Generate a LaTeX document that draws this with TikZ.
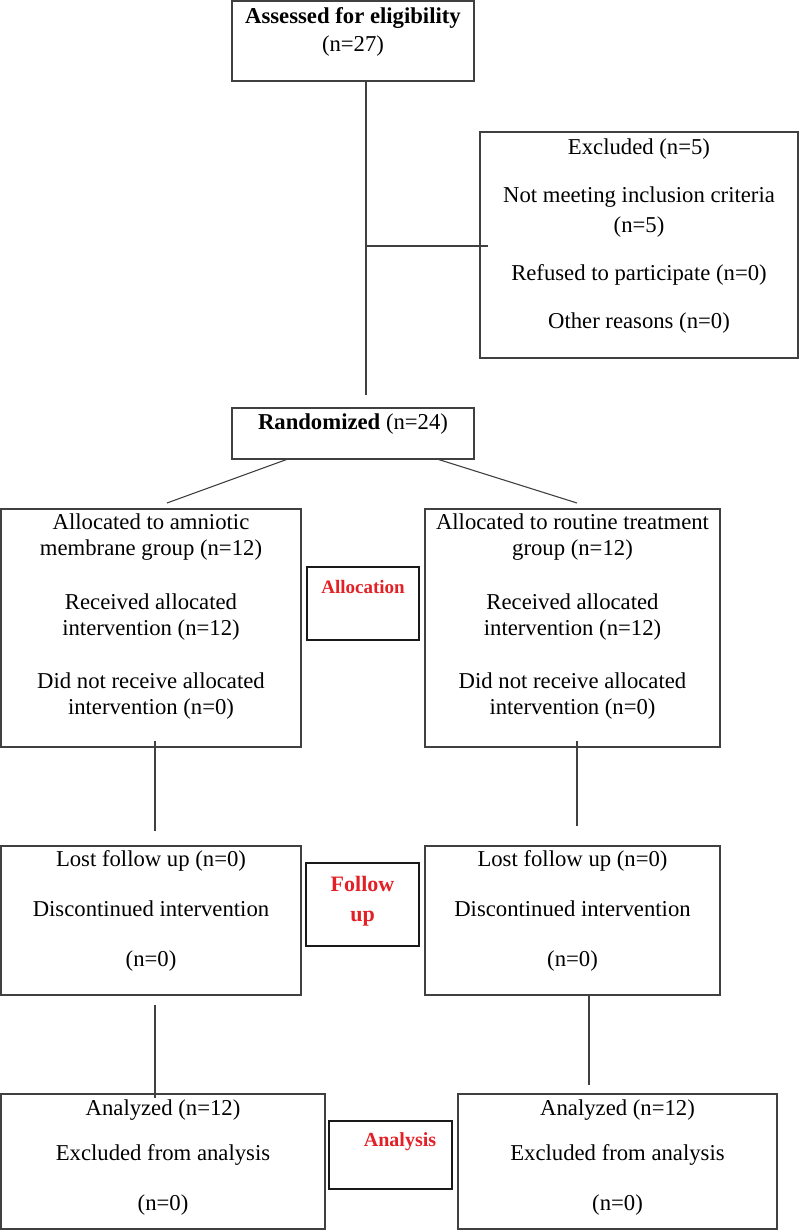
\documentclass[tikz,border=0pt]{standalone}
\usepackage{fontspec}
\setmainfont{Liberation Serif}
\definecolor{labred}{RGB}{226,32,38}
\tikzset{
	box/.style={draw=black!75, line width=1.1pt, inner sep=0pt, outer sep=0pt},
	labbox/.style={draw=black!90, line width=1.5pt, inner sep=0pt, outer sep=0pt},
	txt/.style={align=center, inner sep=0pt, font=\fontsize{22.7}{26}\selectfont},
	labtxt/.style={align=center, inner sep=0pt, text=labred, font=\fontsize{19}{30}\selectfont\bfseries},
	link/.style={draw=black!75, line width=1.1pt}
}
\begin{document}
\begin{tikzpicture}[x=1pt,y=-1pt]
	\useasboundingbox (0,0) rectangle (799,1230);
	% boxes
	\node[box, minimum width=242, minimum height=80] (assess) at (353,41) {};
	\node[box, minimum width=318, minimum height=226] (excl) at (639,245) {};
	\node[box, minimum width=242, minimum height=51] (rand) at (353,433.5) {};
	\node[box, minimum width=300, minimum height=238] (allocL) at (151,628) {};
	\node[box, minimum width=295, minimum height=238] (allocR) at (572.5,628) {};
	\node[box, minimum width=300, minimum height=149] (followL) at (151,920.5) {};
	\node[box, minimum width=295, minimum height=149] (followR) at (572.5,920.5) {};
	\node[box, minimum width=324, minimum height=135] (anaL) at (163,1161.5) {};
	\node[box, minimum width=319, minimum height=135] (anaR) at (617.5,1161.5) {};
	\node[labbox, minimum width=112, minimum height=73] (allocLab) at (363,603.5) {};
	\node[labbox, minimum width=113, minimum height=83] (followLab) at (362.5,904.5) {};
	\node[labbox, minimum width=123, minimum height=68] (anaLab) at (390.5,1155) {};
	% texts
	\node[txt] (assessTxt) at (353,32) {\textbf{Assessed for eligibility}\\[2pt](n=27)};
	\node[txt] (exclTxt) at (639,236) {Excluded (n=5)\\[22pt]Not meeting inclusion criteria\\[4pt](n=5)\\[22pt]Refused to participate (n=0)\\[22pt]Other reasons (n=0)};
	\node[txt] (randTxt) at (353,424) {\textbf{Randomized} (n=24)};
	\node[txt] (allocLTxt) at (151,617) {Allocated to amniotic\\membrane group (n=12)\\[28pt]Received allocated\\intervention (n=12)\\[27pt]Did not receive allocated\\intervention (n=0)};
	\node[txt] (allocRTxt) at (572.5,617) {Allocated to routine treatment\\group (n=12)\\[28pt]Received allocated\\intervention (n=12)\\[27pt]Did not receive allocated\\intervention (n=0)};
	\node[txt] (followLTxt) at (151,911) {Lost follow up (n=0)\\[24pt]Discontinued intervention\\[24pt](n=0)};
	\node[txt] (followRTxt) at (572.5,911) {Lost follow up (n=0)\\[24pt]Discontinued intervention\\[24pt](n=0)};
	\node[txt] (anaLTxt) at (163,1158) {Analyzed (n=12)\\[19pt]Excluded from analysis\\[24pt](n=0)};
	\node[txt] (anaRTxt) at (617.5,1158) {Analyzed (n=12)\\[19pt]Excluded from analysis\\[24pt](n=0)};
	\node[labtxt] (allocLabTxt) at (363,587) {Allocation};
	\node[labtxt, font=\fontsize{22}{30}\selectfont\bfseries] (followLabTxt) at (362.5,901) {Follow\\up};
	\node[labtxt, font=\fontsize{20}{30}\selectfont\bfseries] (anaLabTxt) at (400,1142) {Analysis};
	% connectors
	\coordinate (trunkEnd) at (366,395);
	\coordinate (branch) at (366,246);
	\draw[link] (assess.south -| trunkEnd) -- (trunkEnd);
	\draw[link] (branch) -- ([xshift=8]excl.west |- branch);
	\coordinate (splitL) at (288,459);
	\coordinate (splitR) at (437,459);
	\coordinate (endL) at (167,503);
	\coordinate (endR) at (577,503);
	\draw[link] (splitL) -- (endL);
	\draw[link] (splitR) -- (endR);
	\coordinate (downL) at (155,741);
	\coordinate (downR) at (577,741);
	\draw[link] (downL) -- (downL |- 0,831);
	\draw[link] (downR) -- (downR |- 0,826);
	\coordinate (lowL) at (155,1005);
	\coordinate (lowR) at (589,995);
	\draw[link] (lowL) -- (lowL |- anaL.north) -- ++(0,4);
	\draw[link] (lowR) -- (lowR |- 0,1085);
\end{tikzpicture}
\end{document}
